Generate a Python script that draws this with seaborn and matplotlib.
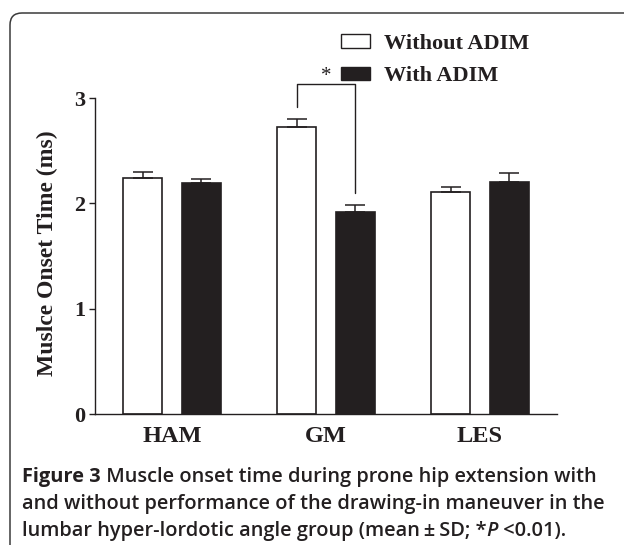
"""
Muscle onset time bar chart (with / without ADIM) — figure recreation
"""
import numpy as np
import pandas as pd
import matplotlib
matplotlib.use('Agg')
import matplotlib.pyplot as plt
import matplotlib.transforms as mtrans
from matplotlib.patches import Patch, FancyBboxPatch
import seaborn as sns

# ── data ─────────────────────────────────────────────
muscles = ['HAM', 'GM', 'LES']
conditions = ['Without ADIM', 'With ADIM']
mean_without = [2.24, 2.72, 2.11]
mean_with = [2.19, 1.92, 2.20]
sd_without = [0.06, 0.08, 0.045]
sd_with = [0.04, 0.06, 0.085]
yticks = [0, 1, 2, 3]

df = pd.DataFrame({
    'muscle': muscles * 2,
    'condition': [conditions[0]] * 3 + [conditions[1]] * 3,
    'onset': mean_without + mean_with,
})
sds = [sd_without, sd_with]

DARK = '#231f20'
SERIF = 'Liberation Serif'

sns.set_theme(style='white')
plt.rcParams['font.family'] = [SERIF, 'DejaVu Serif']

fig = plt.figure(figsize=(6.24, 5.45), dpi=100)
ax = fig.add_axes([95 / 624, 131 / 545, 462 / 624, 347.6 / 545])

sns.barplot(data=df, x='muscle', y='onset', hue='condition', order=muscles,
            hue_order=conditions, palette={conditions[0]: 'white', conditions[1]: DARK},
            edgecolor=DARK, linewidth=1.2, width=0.76, gap=0.34,
            errorbar=None, legend=False, saturation=1, ax=ax)

# one-sided (upper) SD error bars
centers = []
for cont, sd in zip(ax.containers, sds):
    xs = [b.get_x() + b.get_width() / 2 for b in cont]
    ys = [b.get_height() for b in cont]
    centers.append(xs)
    ax.errorbar(xs, ys, yerr=[np.zeros(len(sd)), sd], fmt='none', ecolor=DARK,
                elinewidth=1.1, capsize=7, capthick=1.1, zorder=3)

# significance bracket for GM
x1, x2 = centers[0][1], centers[1][1]
ax.plot([x1, x1, x2, x2], [2.91, 3.13, 3.13, 2.10], color=DARK, lw=1.0,
        clip_on=False)
ax.text((x1 + x2) / 2, 3.11, '*', ha='center', va='bottom', fontsize=15,
        color=DARK, clip_on=False)

ax.set_xlim(-0.5, 2.5)
ax.set_ylim(0, 3.3)
ax.set_yticks(yticks)
ax.set_yticklabels([str(t) for t in yticks], fontsize=16, fontweight='bold', color=DARK)
ax.set_xticks(range(len(muscles)))
ax.set_xticklabels(muscles, fontsize=17.5, fontweight='bold', color=DARK)
ax.tick_params(axis='x', length=0, pad=9)
ax.tick_params(axis='y', length=4, width=1, color=DARK, direction='out', pad=3, left=True)
ax.set_xlabel('')
ax.set_ylabel('Muslce Onset Time (ms)', fontsize=17, fontweight='bold', color=DARK)
ax.yaxis.set_label_coords(-0.080, 0.463)

sns.despine(ax=ax)
ax.spines['left'].set_bounds(0, 3)
for s in ('left', 'bottom'):
    ax.spines[s].set_color(DARK)
    ax.spines[s].set_linewidth(1.0)

# legend
handles = [Patch(facecolor='white', edgecolor=DARK, linewidth=1.0),
           Patch(facecolor=DARK, edgecolor=DARK, linewidth=1.0)]
leg = fig.legend(handles, conditions, loc='upper left',
                 bbox_to_anchor=(341 / 624, 1 - 34 / 545), frameon=False,
                 prop={'family': SERIF, 'weight': 'bold', 'size': 16},
                 handlelength=1.3, handleheight=0.55, handletextpad=0.65,
                 labelspacing=0.55, borderpad=0, borderaxespad=0)
for t in leg.get_texts():
    t.set_color(DARK)

# rounded panel frame
frame = FancyBboxPatch((10, -20), 700, 552, boxstyle='round,pad=0,rounding_size=12',
                       transform=mtrans.IdentityTransform(), facecolor='none',
                       edgecolor='#3a3a3a', linewidth=1.1)
fig.patches.append(frame)

# caption
CAP = 'Open Sans'
cap_kw = dict(fontsize=14.4, color=DARK, family=CAP, va='baseline', fontweight='semibold')
t = fig.text(22 / 624, 1 - 482 / 545, 'Figure 3', **{**cap_kw, 'fontweight': 'bold'})
fig.canvas.draw()
r = fig.canvas.get_renderer()


def after(prev, s, **kw):
    bb = prev.get_window_extent(r)
    x = bb.x1 / fig.bbox.width
    y = prev.get_position()[1]
    opts = dict(cap_kw)
    opts.update(kw)
    return fig.text(x, y, s, **opts)


after(t, ' Muscle onset time during prone hip extension with')
fig.text(22 / 624, 1 - 509 / 545,
         'and without performance of the drawing-in maneuver in the', **cap_kw)
t3 = fig.text(22 / 624, 1 - 536 / 545,
              'lumbar hyper-lordotic angle group (mean\u2009\u00b1\u2009SD; *', **cap_kw)
t4 = after(t3, 'P', style='italic')
after(t4, ' <0.01).')

fig.savefig('out.png', dpi=100, facecolor='white')
plt.close(fig)
